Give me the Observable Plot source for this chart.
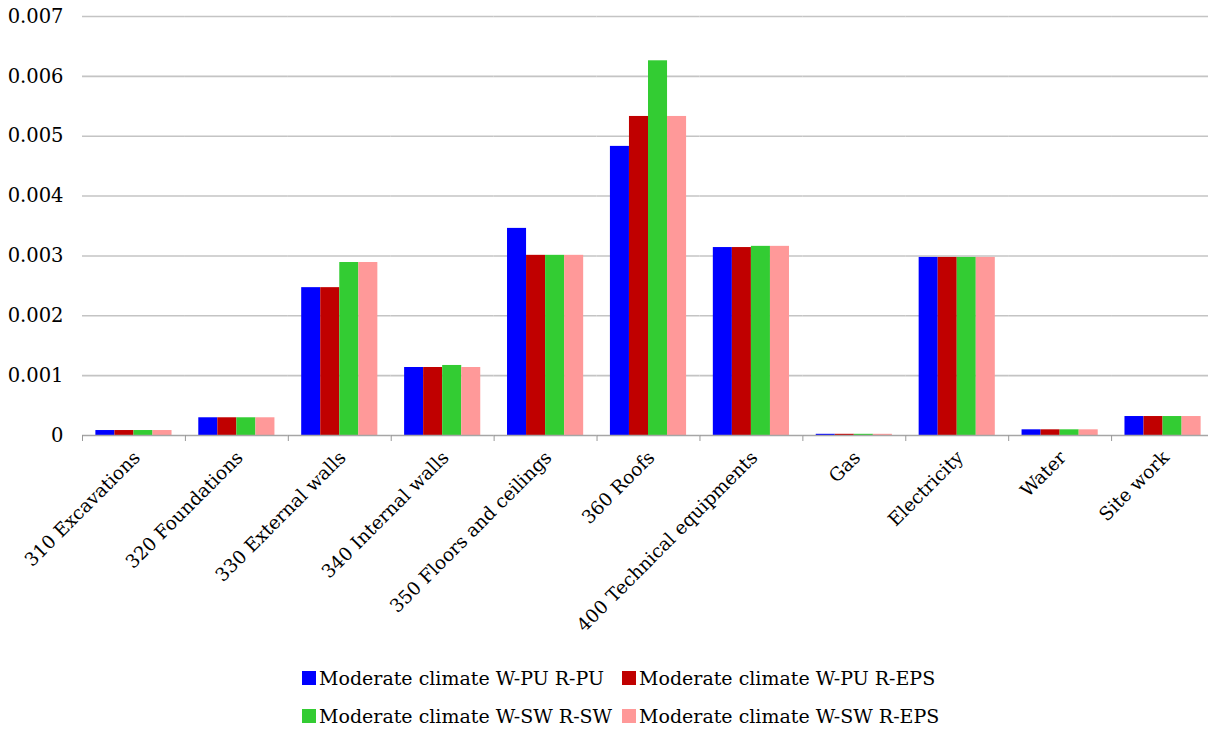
<!DOCTYPE html>
<html>
<head>
<meta charset="utf-8">
<script src="https://cdn.jsdelivr.net/npm/d3@7"></script>
<script src="https://cdn.jsdelivr.net/npm/@observablehq/plot@0.6"></script>
<style>
  html, body { margin: 0; background: #fff; font-family: "DejaVu Serif", serif; overflow: hidden; }
  #chart svg { max-width: none !important; }
  #legend { display: grid; grid-template-columns: 320px auto; row-gap: 16px; margin-left: 302px; margin-top: 15px; font-size: 19px; color: #000; }
  .item { display: flex; align-items: center; white-space: nowrap; }
  .sw { width: 14px; height: 14px; margin-right: 3px; display: inline-block; }
</style>
</head>
<body>
<div id="chart"></div>
<div id="legend"></div>
<script>
const categories = ["310 Excavations", "320 Foundations", "330 External walls", "340 Internal walls", "350 Floors and ceilings", "360 Roofs", "400 Technical equipments", "Gas", "Electricity", "Water", "Site work"];
const series = ["Moderate climate W-PU R-PU", "Moderate climate W-PU R-EPS", "Moderate climate W-SW R-SW", "Moderate climate W-SW R-EPS"];
const colors = ["#0000ff", "#c00000", "#33cc33", "#ff9999"];
const wpuRpu  = [0.000083, 0.000296, 0.00247, 0.001136, 0.00346, 0.00483, 0.00314, 0.00002, 0.002975, 0.000095, 0.000317];
const wpuReps = [0.000083, 0.000296, 0.00247, 0.001136, 0.00301, 0.00533, 0.00314, 0.00002, 0.002975, 0.000095, 0.000317];
const wswRsw  = [0.000083, 0.000296, 0.00289, 0.00117,  0.00301, 0.00626, 0.00316, 0.00002, 0.002975, 0.000095, 0.000317];
const wswReps = [0.000083, 0.000296, 0.00289, 0.001136, 0.00301, 0.00533, 0.00316, 0.00002, 0.002975, 0.000095, 0.000317];
const yTicks = [0, 0.001, 0.002, 0.003, 0.004, 0.005, 0.006, 0.007];

const seriesValues = [wpuRpu, wpuReps, wswRsw, wswReps];
const data = categories.flatMap((c, i) => series.map((s, j) => ({category: c, series: s, value: seriesValues[j][i]})));

const width = 1214, marginLeft = 82, marginRight = 0;
const pInner = 0.26, pOuter = 0.13;
const step = (width - marginLeft - marginRight) / categories.length;
const half = step * pOuter;
const fmt = d => d === 0 ? "0" : d.toFixed(3);

const chart = Plot.plot({
  width, height: 652,
  marginLeft, marginRight, marginTop: 16, marginBottom: 217,
  style: {fontFamily: "DejaVu Serif", fontSize: "16px", color: "#000", background: "#fff", maxWidth: "none"},
  fx: {domain: categories, paddingInner: pInner, paddingOuter: pOuter, round: false, label: null},
  x: {domain: series, padding: 0, round: false, axis: null},
  y: {domain: [0, 0.007], label: null},
  color: {domain: series, range: colors},
  marks: [
    Plot.ruleY(yTicks.slice(1), {stroke: "#c4c4c4", strokeWidth: 1.6, insetLeft: -half, insetRight: -half}),
    Plot.axisY({ticks: yTicks, tickFormat: fmt, tickSize: 0, tickPadding: 19 + half, fontSize: 19.5, label: null}),
    Plot.barY(data, {fx: "category", x: "series", y: "value", fill: "series"}),
    Plot.ruleY([0], {stroke: "#a6a6a6", strokeWidth: 1.6, insetLeft: -half, insetRight: -half}),
    Plot.axisFx({anchor: "bottom", tickRotate: -45, tickSize: 0, tickPadding: 19, dx: 3, label: null, fontSize: 18.5}),
    Plot.axisFx({anchor: "bottom", text: null, tickSize: 6, dx: -step / 2, stroke: "#999", label: null})
  ]
});
document.getElementById("chart").appendChild(chart);

const legend = document.getElementById("legend");
series.forEach((s, i) => {
  const it = document.createElement("div");
  it.className = "item";
  it.innerHTML = `<span class="sw" style="background:${colors[i]}"></span><span>${s}</span>`;
  legend.appendChild(it);
});
</script>
</body>
</html>
